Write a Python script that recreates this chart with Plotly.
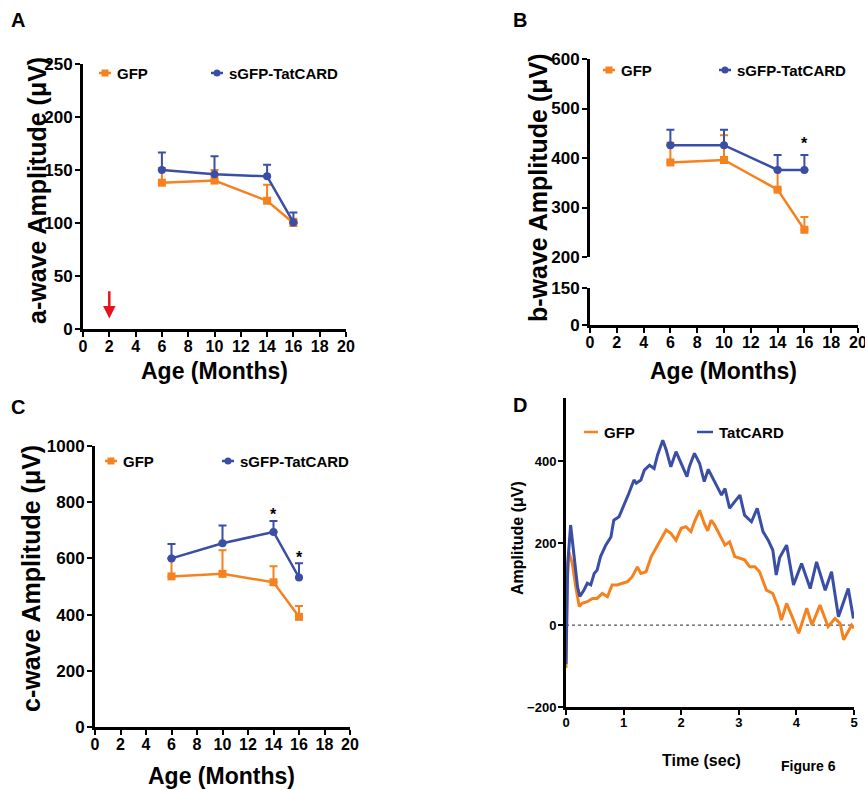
import plotly.graph_objects as go

W, H = 865, 790
ORANGE = "#F5821F"
BLUE = "#3A4EA5"
FONT = "Liberation Sans"

# ---------------- data ----------------
months = [6, 10, 14, 16]
x_ticks = list(range(0, 21, 2))

a_gfp = [138, 140, 121, 100]
a_gfp_err = [14, 10, 15, 4]
a_tat = [150, 146, 144, 100.5]
a_tat_err = [16.5, 17, 11, 9.5]

b_gfp = [391, 396, 336, 255]
b_gfp_err = [40, 50, 42, 26]
b_tat = [426, 426, 376, 376]
b_tat_err = [31, 31, 30, 30]

c_gfp = [536, 545, 515, 392]
c_gfp_err = [65, 84, 57, 39]
c_tat = [600, 654, 694, 532]
c_tat_err = [51, 63, 39, 51]

d_tat_t = [0.0, 0.03, 0.08, 0.14, 0.20, 0.24, 0.31, 0.37, 0.43, 0.49, 0.54, 0.60, 0.69, 0.78,
           0.83, 0.92, 1.01, 1.09, 1.18, 1.22, 1.30, 1.36, 1.45, 1.53, 1.59, 1.68, 1.74, 1.82,
           1.91, 2.00, 2.10, 2.14, 2.23, 2.32, 2.40, 2.47, 2.55, 2.61, 2.70, 2.76, 2.84, 2.93,
           3.02, 3.10, 3.22, 3.32, 3.42, 3.51, 3.59, 3.65, 3.71, 3.83, 3.95, 4.09, 4.24, 4.35,
           4.50, 4.61, 4.73, 4.90, 4.99]
d_tat_v = [-95, 150, 244, 167, 93, 70, 85, 102, 98, 126, 134, 167, 195, 215,
           256, 264, 293, 321, 354, 346, 354, 378, 390, 382, 415, 451, 427, 386,
           423, 394, 362, 386, 419, 394, 350, 380, 358, 341, 317, 333, 285, 301,
           317, 268, 252, 285, 228, 207, 183, 122, 165, 195, 98, 150, 89, 154,
           85, 130, 20, 89, 16]

d_gfp_t = [0.0, 0.02, 0.05, 0.11, 0.17, 0.23, 0.28, 0.37, 0.46, 0.54, 0.63, 0.72, 0.80, 0.89,
           0.98, 1.07, 1.15, 1.24, 1.30, 1.39, 1.48, 1.56, 1.65, 1.74, 1.82, 1.91, 2.00, 2.08,
           2.17, 2.23, 2.32, 2.40, 2.46, 2.52, 2.58, 2.67, 2.76, 2.84, 2.93, 3.02, 3.10, 3.19,
           3.28, 3.36, 3.48, 3.59, 3.68, 3.74, 3.83, 3.95, 4.04, 4.18, 4.27, 4.41, 4.55, 4.67,
           4.76, 4.82, 4.96, 5.0]
d_gfp_v = [-105, 100, 178, 150, 93, 45, 53, 57, 65, 65, 77, 69, 98, 98,
           102, 106, 118, 142, 126, 130, 167, 187, 207, 232, 224, 207, 236, 240,
           228, 252, 280, 248, 230, 256, 244, 220, 195, 203, 167, 163, 159, 142,
           142, 130, 85, 77, 45, 12, 53, 12, -20, 41, 0, 49, -4, 16,
           4, -36, 0, -8]

stars_b = ([16], [438])
stars_c = ([14, 16], [772, 617])


def px(x):
    return x / W


def py(y):
    return 1 - y / H


fig = go.Figure()


def add_group(xa, ya, gfp, gfp_err, tat, tat_err):
    for vals, errs, color, sym in [(gfp, gfp_err, ORANGE, "square"), (tat, tat_err, BLUE, "circle")]:
        fig.add_trace(go.Scatter(
            x=months, y=vals, xaxis=xa, yaxis=ya, mode="lines+markers",
            line=dict(color=color, width=2.5),
            marker=dict(symbol=sym, size=8, color=color),
            error_y=dict(type="data", symmetric=False, array=errs, arrayminus=[0] * len(errs),
                         color=color, thickness=2, width=4),
            showlegend=False, cliponaxis=False, hoverinfo="skip"))


add_group("x", "y", a_gfp, a_gfp_err, a_tat, a_tat_err)
add_group("x2", "y3", b_gfp, b_gfp_err, b_tat, b_tat_err)
# empty trace so that the lower (0-150) segment of panel B's broken axis is drawn
fig.add_trace(go.Scatter(x=[], y=[], xaxis="x2", yaxis="y2", showlegend=False))
add_group("x4", "y4", c_gfp, c_gfp_err, c_tat, c_tat_err)

fig.add_trace(go.Scatter(x=d_gfp_t, y=d_gfp_v, xaxis="x5", yaxis="y5", mode="lines",
                         line=dict(color=ORANGE, width=3), showlegend=False))
fig.add_trace(go.Scatter(x=d_tat_t, y=d_tat_v, xaxis="x5", yaxis="y5", mode="lines",
                         line=dict(color=BLUE, width=3), showlegend=False))

xtick_font = dict(family=FONT, size=16, color="black", weight="bold")
ytick_font = dict(family=FONT, size=17, color="black", weight="bold")
small_tick_font = dict(family=FONT, size=13, color="black", weight="bold")
common = dict(showline=True, linecolor="black", linewidth=3, ticks="outside", ticklen=5,
              tickwidth=2, tickcolor="black", showgrid=False, zeroline=False, fixedrange=True,
              automargin=False, ticklabeloverflow="allow")
xc = dict(common, ticklabelstandoff=-4)
yc = dict(common, ticklabelstandoff=-1)

layout = dict(
    width=W, height=H, margin=dict(l=0, r=0, t=0, b=0, autoexpand=False),
    paper_bgcolor="white", plot_bgcolor="white",
    font=dict(family=FONT, color="black"),
    # Panel A
    xaxis=dict(domain=[px(83), px(346)], range=[0, 20], tickvals=x_ticks, anchor="y",
               tickfont=xtick_font, **xc),
    yaxis=dict(domain=[py(329), py(64)], range=[0, 250], dtick=50, anchor="x",
               tickfont=ytick_font, **yc),
    # Panel B lower
    xaxis2=dict(domain=[px(590), px(858)], range=[0, 20], tickvals=x_ticks, anchor="y2",
                tickfont=xtick_font, **xc),
    yaxis2=dict(domain=[py(325), py(288)], range=[0, 150], tickvals=[0, 150], anchor="x2",
                tickfont=ytick_font, **yc),
    # Panel B upper
    yaxis3=dict(domain=[py(257), py(59)], range=[200, 600], dtick=100, anchor="x2",
                tickfont=ytick_font, **yc),
    # Panel C
    xaxis4=dict(domain=[px(95), px(350)], range=[0, 20], tickvals=x_ticks, anchor="y4",
                tickfont=xtick_font, **xc),
    yaxis4=dict(domain=[py(727), py(446)], range=[0, 1000], dtick=200, anchor="x4",
                tickfont=ytick_font, **yc),
    # Panel D
    xaxis5=dict(domain=[px(566), px(854)], range=[0, 5], dtick=1, anchor="y5",
                tickfont=small_tick_font, **xc),
    yaxis5=dict(domain=[py(707), py(398)], range=[-200, 554], tickvals=[-200, 0, 200, 400],
                anchor="x5", tickfont=small_tick_font, **yc),
)
fig.update_layout(**layout)

ann = []


def text(x, y, s, size, xanchor="center", yanchor="middle", angle=0, bold=True):
    ann.append(dict(x=px(x), y=py(y), xref="paper", yref="paper", text=s, showarrow=False,
                    xanchor=xanchor, yanchor=yanchor, textangle=angle,
                    font=dict(family=FONT, size=size, color="black",
                              weight="bold" if bold else "normal")))


# panel letters
for lab, x, y in [("A", 18, 20), ("B", 520, 20), ("C", 18, 407), ("D", 520, 405)]:
    text(x, y, lab, 20)

# axis titles
text(37, 191, "a-wave Amplitude (μV)", 25, angle=-90)
text(538, 188, "b-wave Amplitude (μV)", 25, angle=-90)
text(31, 579, "c-wave Amplitude (μV)", 25, angle=-90)
text(214, 371, "Age (Months)", 23)
text(723, 371, "Age (Months)", 23)
text(222, 776, "Age (Months)", 23)
text(517, 538, "Amplitude (μV)", 16, angle=-90)
text(701, 760, "Time (sec)", 16)
text(808, 766, "Figure 6", 14)

# legends
shapes = []


def legend_item(xcen, ycen, color, kind, label, seg=6):
    shapes.append(dict(type="line", xref="paper", yref="paper", x0=px(xcen - seg), x1=px(xcen + seg),
                       y0=py(ycen), y1=py(ycen), line=dict(color=color, width=2.5)))
    if kind == "square":
        shapes.append(dict(type="rect", xref="paper", yref="paper", x0=px(xcen - 3.5), x1=px(xcen + 3.5),
                           y0=py(ycen + 3.5), y1=py(ycen - 3.5), fillcolor=color, line=dict(width=0)))
    elif kind == "circle":
        shapes.append(dict(type="circle", xref="paper", yref="paper", x0=px(xcen - 3.5), x1=px(xcen + 3.5),
                           y0=py(ycen + 3.5), y1=py(ycen - 3.5), fillcolor=color, line=dict(width=0)))
    text(xcen + seg + 4, ycen, label, 15, xanchor="left")


legend_item(105, 73, ORANGE, "square", "GFP")
legend_item(217, 73, BLUE, "circle", "sGFP-TatCARD")
legend_item(609, 70, ORANGE, "square", "GFP")
legend_item(725, 70, BLUE, "circle", "sGFP-TatCARD")
legend_item(111, 461, ORANGE, "square", "GFP")
legend_item(228, 461, BLUE, "circle", "sGFP-TatCARD")
legend_item(591, 432, ORANGE, "line", "GFP", seg=7)
legend_item(705, 432, BLUE, "line", "TatCARD", seg=8)

# significance stars
for xs, ys, xa, ya in [(stars_b[0], stars_b[1], "x2", "y3"), (stars_c[0], stars_c[1], "x4", "y4")]:
    for xv, yv in zip(xs, ys):
        ann.append(dict(x=xv, y=yv, xref=xa, yref=ya, text="*", showarrow=False, yshift=-4,
                        font=dict(family=FONT, size=16, color="black", weight="bold")))

# red arrow at 2 months
ann.append(dict(x=2, y=10, xref="x", yref="y", ax=2, ay=37, axref="x", ayref="y",
                showarrow=True, arrowhead=2, arrowsize=1, arrowwidth=2.5, arrowcolor="#E8131A",
                text=""))

# dotted zero line in D
shapes.append(dict(type="line", xref="x5", yref="y5", x0=0, x1=5, y0=0, y1=0,
                   line=dict(color="#555555", width=1.2, dash="dot"), layer="below"))

fig.update_layout(annotations=ann, shapes=shapes)
fig.write_html("out.html", config={"displayModeBar": False},
               post_script="document.body.style.margin='0px';document.body.style.overflow='hidden';")
